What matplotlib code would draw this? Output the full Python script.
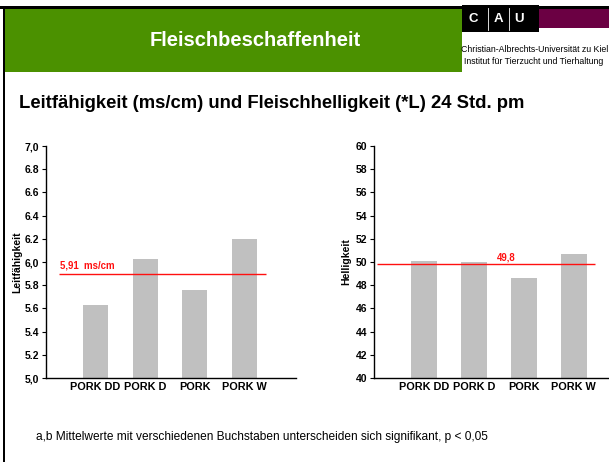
import matplotlib.pyplot as plt
from matplotlib.patches import Rectangle
from matplotlib.lines import Line2D

plt.rcParams['font.family'] = ['Liberation Sans', 'DejaVu Sans']

categories = ['PORK DD', 'PORK D', 'PORK', 'PORK W']
leitfaehigkeit = [5.63, 6.03, 5.76, 6.20]
helligkeit = [50.1, 50.0, 48.6, 50.7]
mean_leit = 5.9
mean_hell = 49.8
leit_ticks = [5.0, 5.2, 5.4, 5.6, 5.8, 6.0, 6.2, 6.4, 6.6, 6.8, 7.0]
leit_ticklabels = ['5,0', '5.2', '5.4', '5.6', '5.8', '6,0', '6.2', '6.4', '6.6', '6.8', '7,0']
hell_ticks = [40, 42, 44, 46, 48, 50, 52, 54, 56, 58, 60]

W, H = 609, 462
fig = plt.figure(figsize=(W / 100, H / 100), dpi=100)


def box(x0, y0, x1, y1):
    # pixel box (top-left origin) -> figure fraction rect
    return [x0 / W, 1 - y1 / H, (x1 - x0) / W, (y1 - y0) / H]


def rect(x0, y0, x1, y1, color):
    l, b, w, h = box(x0, y0, x1, y1)
    fig.patches.append(Rectangle((l, b), w, h, transform=fig.transFigure,
                                 facecolor=color, edgecolor='none', zorder=0))


def text(x, y, s, **kw):
    fig.text(x / W, 1 - y / H, s, **kw)


# header
rect(0, 6, W, 9, 'black')
rect(3, 6, 5, H, 'black')
rect(5, 9, 462, 72, '#4b9100')
rect(462, 5, 539, 32, 'black')
rect(539, 9, W, 28, '#6b0043')
text(255, 40, 'Fleischbeschaffenheit', color='white', fontsize=14.5,
     fontweight='bold', ha='center', va='center')
for x, s in [(473, 'C'), (498.5, 'A'), (519, 'U')]:
    text(x, 19, s, color='white', fontsize=9.5, fontweight='bold', ha='center', va='center')
for x in [488, 509]:
    fig.lines.append(Line2D([x / W, x / W], [1 - 8 / H, 1 - 30 / H],
                            transform=fig.transFigure, color='white', lw=0.6))
text(608, 49, 'Christian-Albrechts-Universität zu Kiel', fontsize=6.3,
     ha='right', va='center')
text(603, 62, 'Institut für Tierzucht und Tierhaltung', fontsize=6.3,
     ha='right', va='center')

text(19, 103, 'Leitfähigkeit (ms/cm) und Fleischhelligkeit (*L) 24 Std. pm',
     fontsize=13.3, fontweight='bold', va='center')
text(36, 437, 'a,b Mittelwerte mit verschiedenen Buchstaben unterscheiden sich signifikant, p < 0,05',
     fontsize=8.6, va='center')


def style(ax):
    ax.spines['top'].set_visible(False)
    ax.spines['right'].set_visible(False)
    ax.spines['left'].set_linewidth(1)
    ax.spines['bottom'].set_linewidth(1)
    ax.tick_params(axis='y', length=3, width=0.8, pad=2, labelsize=7.5)
    ax.tick_params(axis='x', length=0, pad=3, labelsize=7.8)
    for lab in ax.get_xticklabels() + ax.get_yticklabels():
        lab.set_fontweight('bold')


x = range(len(categories))

# left chart
ax1 = fig.add_axes(box(46, 146, 296, 378))
ax1.bar(x, leitfaehigkeit, width=0.5, color='#c0c0c0')
ax1.set_xlim(-1.0, 4.04)
ax1.set_ylim(5.0, 7.0)
ax1.set_yticks(leit_ticks)
ax1.set_yticklabels(leit_ticklabels)
ax1.set_xticks(list(x))
ax1.set_xticklabels(categories)
ax1.hlines(mean_leit, -0.74, 3.44, color='#ff1010', lw=1)
ax1.text(-0.72, mean_leit + 0.07, '5,91  ms/cm', color='#ff1010', fontsize=6.9,
         fontweight='bold', va='center')
ax1.set_ylabel('Leitfähigkeit', fontsize=7.5, fontweight='bold', labelpad=1.5)
style(ax1)

# right chart
ax2 = fig.add_axes(box(374, 146, 608, 378))
ax2.bar(x, helligkeit, width=0.52, color='#c0c0c0')
ax2.set_xlim(-1.0, 3.69)
ax2.set_ylim(40, 60)
ax2.set_yticks(hell_ticks)
ax2.set_xticks(list(x))
ax2.set_xticklabels(categories)
ax2.hlines(mean_hell, -0.94, 3.42, color='#ff1010', lw=1)
ax2.text(1.65, mean_hell + 0.55, '49,8', color='#ff1010', fontsize=6.9,
         fontweight='bold', ha='center', va='center')
ax2.set_ylabel('Helligkeit', fontsize=7.5, fontweight='bold', labelpad=3)
style(ax2)

fig.savefig('out.png', dpi=100)
